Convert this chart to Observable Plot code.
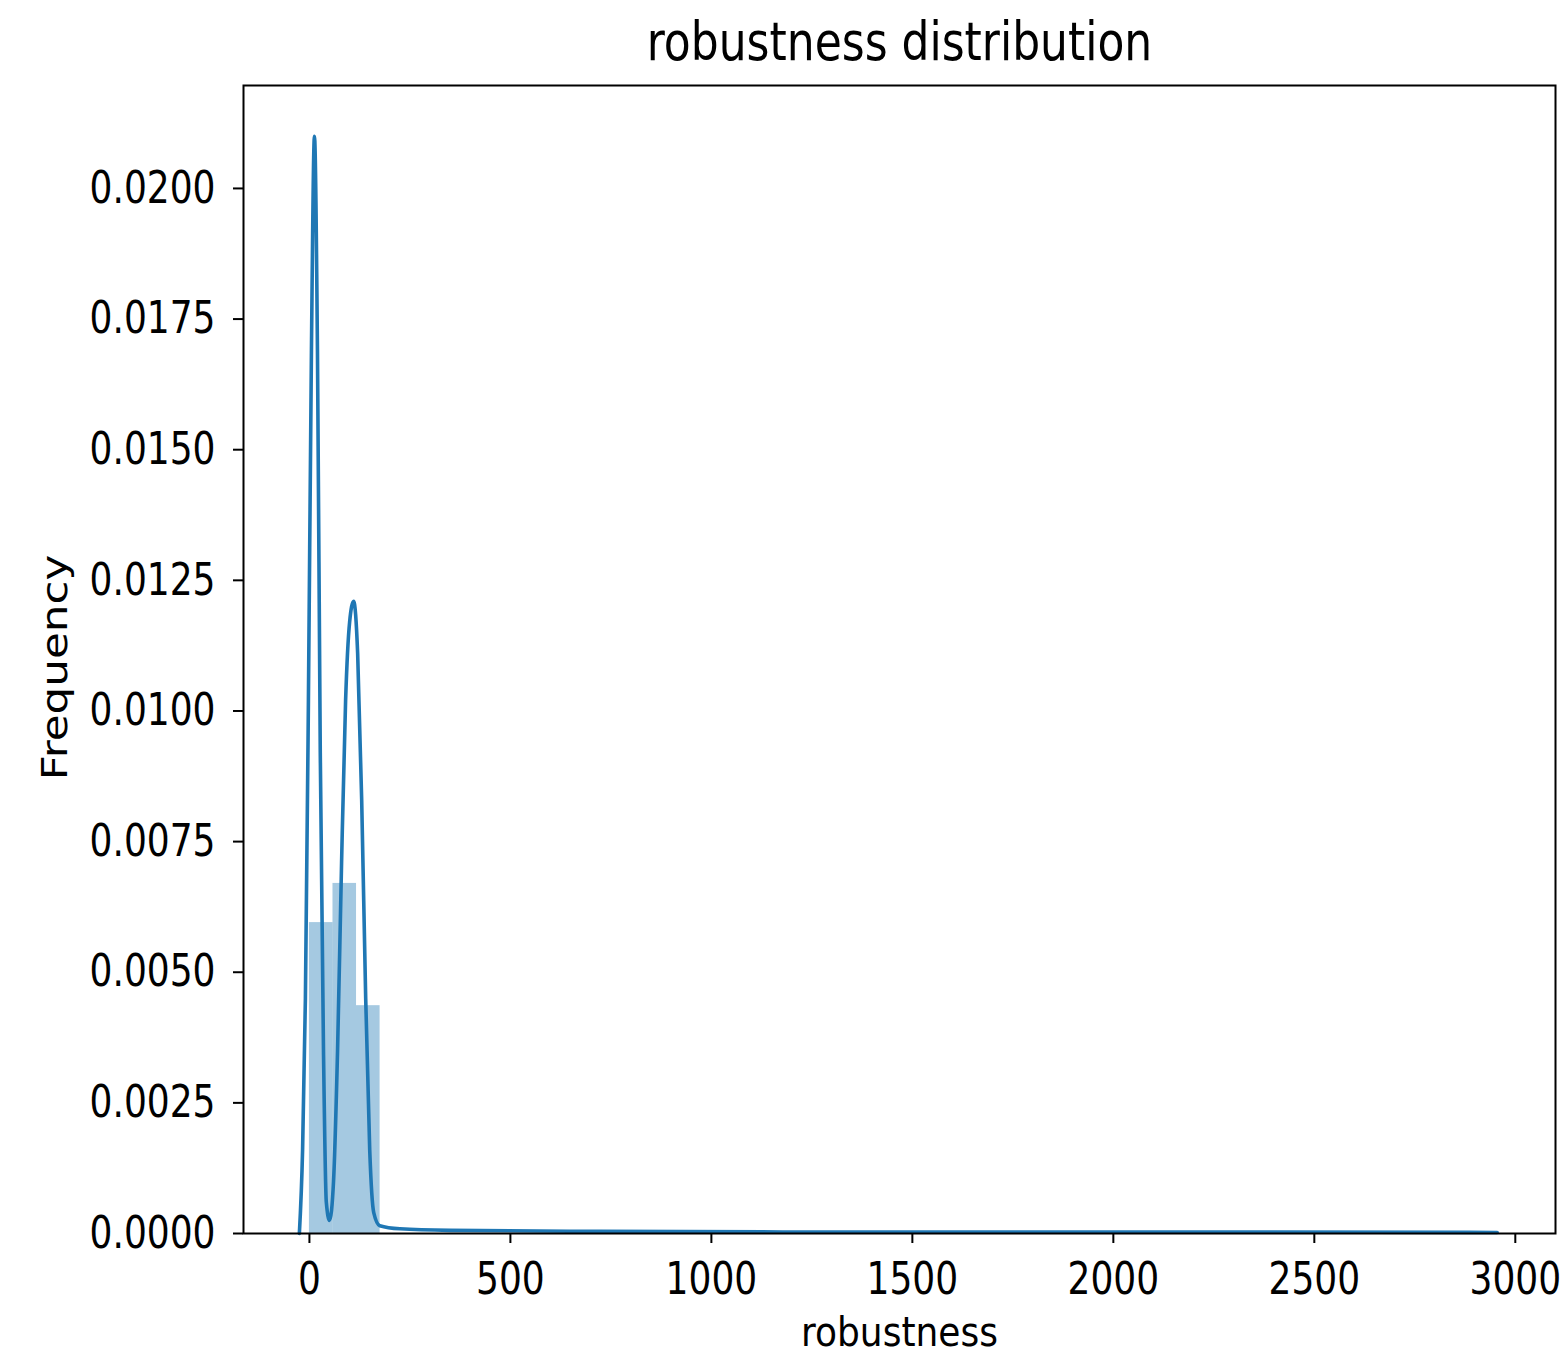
<!DOCTYPE html>
<html>
<head>
<meta charset="utf-8">
<script src="https://cdn.jsdelivr.net/npm/d3@7"></script>
<script src="https://cdn.jsdelivr.net/npm/@observablehq/plot@0.6"></script>
<style>
  html, body { margin: 0; padding: 0; background: #fff; }
  #chart svg { display: block; }
</style>
</head>
<body>
<div id="chart"></div>
<script>
// Histogram bins (density)
const binStart = [0, 58.6, 117.2];
const binEnd = [58.6, 117.2, 175.8];
const binDensity = [0.00595, 0.00670, 0.00436];

// KDE curve
const kdeX = [-25, -17, -10, -2.5, 5, 12.5, 20, 27, 35, 42, 50, 60, 70, 80, 90, 100, 110, 120, 130, 140, 150, 160, 175, 225, 350, 725, 1200, 1800, 2400, 2955];
const kdeY = [0, 0.0016, 0.0045, 0.0102, 0.0169, 0.0210, 0.0169, 0.0092, 0.0035, 0.0006, 0.00025, 0.0010, 0.0035, 0.0071, 0.0102, 0.0117, 0.0121, 0.0111, 0.0083, 0.0045, 0.0016, 0.0004, 0.00015, 0.00009, 0.00006, 0.00004, 0.00003, 0.00003, 0.00003, 0.00002];

const xTicks = [0, 500, 1000, 1500, 2000, 2500, 3000];
const yTicks = [0, 0.0025, 0.005, 0.0075, 0.01, 0.0125, 0.015, 0.0175, 0.02];

const titleText = "robustness distribution";
const xLabel = "robustness";
const yLabel = "Frequency";

const bins = binStart.map((s, i) => ({x1: s, x2: binEnd[i], y: binDensity[i]}));
const kde = kdeX.map((x, i) => ({x, y: kdeY[i]}));

const blue = "#1f77b4";
const font = "DejaVu Sans, sans-serif";

const chart = Plot.plot({
  width: 1564,
  height: 1358,
  marginLeft: 243,
  marginRight: 9,
  marginTop: 85,
  marginBottom: 125,
  style: {fontFamily: font, fontSize: "36px", color: "#000", background: "#fff"},
  x: {domain: [-164, 3100], ticks: xTicks, label: null},
  y: {domain: [0, 0.02197], ticks: yTicks, label: null},
  marks: [
    Plot.rectY(bins, {x1: "x1", x2: "x2", y: "y", fill: blue, fillOpacity: 0.4, insetLeft: 0, insetRight: 0}),
    Plot.line(kde, {x: "x", y: "y", stroke: blue, strokeWidth: 3.6, curve: "monotone-x"}),
    Plot.frame({stroke: "#000", strokeWidth: 2, strokeOpacity: 1}),
    Plot.axisX({ticks: xTicks, tickSize: 10, tickPadding: 19, tickFormat: d => String(d), fontSize: 36, strokeWidth: 2, label: null}),
    Plot.axisY({ticks: yTicks, tickSize: 10, tickPadding: 18, tickFormat: d => d.toFixed(4), fontSize: 36, strokeWidth: 2, label: null}),
    Plot.text([titleText], {frameAnchor: "top", lineAnchor: "middle", dy: -43, text: d => d, fontSize: 44, fill: "#000"}),
    Plot.text([xLabel], {frameAnchor: "bottom", lineAnchor: "middle", dy: 100, text: d => d, fontSize: 36, fill: "#000"}),
    Plot.text([yLabel], {frameAnchor: "left", textAnchor: "middle", lineAnchor: "middle", dx: -188, dy: 8, rotate: -90, text: d => d, fontSize: 35.5, fill: "#000"})
  ]
});

// The reference image is stretched vertically (~1.23x); mimic on the text glyphs.
chart.querySelectorAll("text").forEach(t => {
  const tr = t.getAttribute("transform");
  if (!tr) return;
  if (tr.includes("rotate")) t.setAttribute("transform", tr + " scale(1.23,1)");
  else if (t.textContent === xLabel) t.setAttribute("transform", tr + " scale(1,1.12)");
  else t.setAttribute("transform", tr + " scale(1,1.23)");
});
document.getElementById("chart").appendChild(chart);
</script>
</body>
</html>
